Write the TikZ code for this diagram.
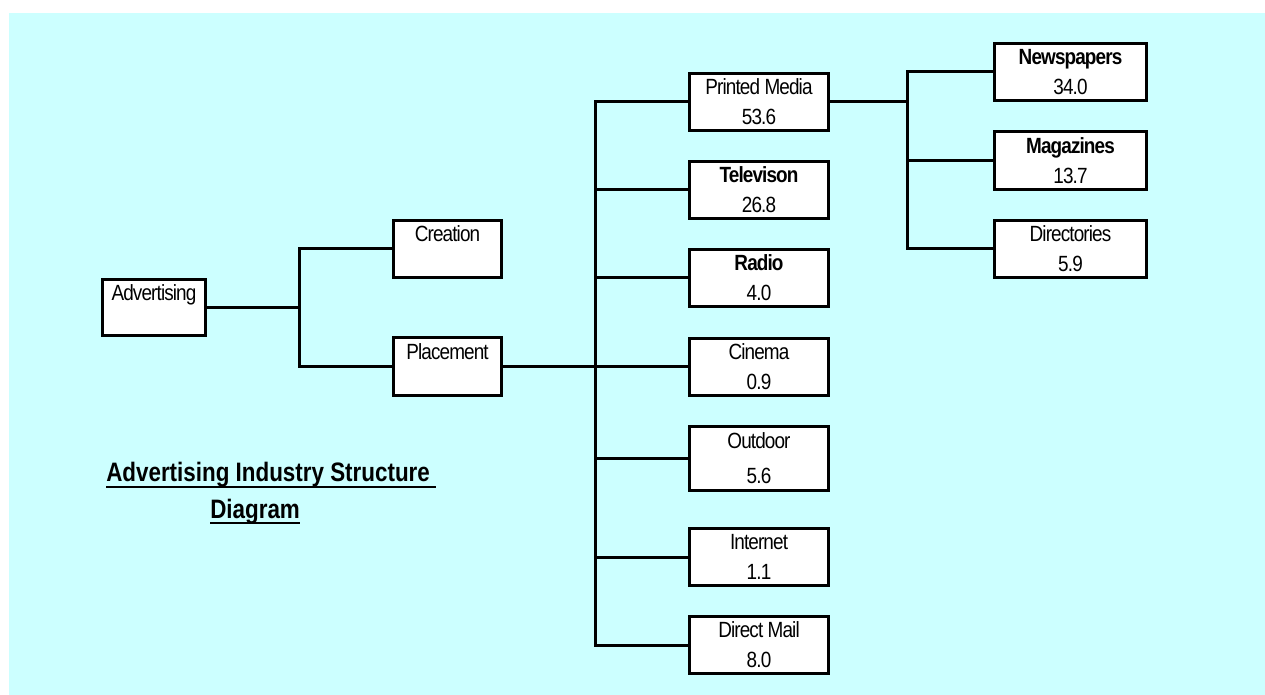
\documentclass[tikz,border=0pt]{standalone}
\usepackage{fontspec}
\setmainfont{Liberation Sans}[FakeStretch=0.86, LetterSpace=-4]
\newfontfamily\ttlfont{Liberation Sans}[FakeStretch=0.84]
\definecolor{bgcyan}{RGB}{204,255,255}
\newcommand\ulbox[1]{\setbox0\hbox{#1}\rlap{\rule[-4.5pt]{\wd0}{1.5pt}}\box0}
\tikzset{
  bx/.style={draw=black, fill=white, line width=2.25pt, inner sep=0pt, align=center,
    font=\fontsize{16.5}{22.5}\selectfont, minimum height=42.75pt},
  lw/.style={bx, minimum width=81pt},
  mw/.style={bx, minimum width=104.25pt},
  rw/.style={bx, minimum width=114pt},
  conn/.style={draw=black, line width=2.25pt},
  ttl/.style={anchor=base west, inner sep=0pt, font=\ttlfont\fontsize{20}{23}\selectfont\bfseries}
}
\begin{document}
\begin{tikzpicture}[x=0.75pt, y=-0.75pt]
\useasboundingbox (0,0) rectangle (1265,695);
\fill[bgcyan] (9,13) rectangle (1265,695);
% level 0/1
\node[bx, minimum width=77.25pt, minimum height=42pt] (adv) at (154,307.5) {Advertising\\\phantom{0}};
\node[lw] (cre) at (447.5,249) {Creation\\\phantom{0}};
\node[lw, minimum height=43.5pt] (pla) at (447.5,366.5) {Placement\\\phantom{0}};
% media column
\node[mw] (pm) at (759,102) {Printed Media\\53.6};
\node[mw] (tv) at (759,190) {\bfseries Televison\\26.8};
\node[mw] (ra) at (759,278) {\bfseries Radio\\4.0};
\node[mw] (ci) at (759,367) {Cinema\\0.9};
\node[mw, minimum height=48pt] (od) at (759,458.5) {Outdoor\\[3.75pt]5.6};
\node[mw] (in) at (759,557) {Internet\\1.1};
\node[mw] (dm) at (759,645) {Direct Mail\\8.0};
% printed media column
\node[rw] (np) at (1070.5,72) {\bfseries Newspapers\\34.0};
\node[rw, minimum height=43.5pt] (mg) at (1070.5,160.5) {\bfseries Magazines\\13.7};
\node[rw] (di) at (1070.5,249) {Directories\\5.9};
% junctions
\coordinate (j1) at (299,307.5);
\coordinate (j2) at (595,366.5);
\coordinate (j3) at (907,102);
% connectors
\draw[conn] (adv.east) -- (j1);
\draw[conn] (cre.west) -| (j1);
\draw[conn] (pla.west) -| (j1);
\draw[conn] (pla.east) -- (j2);
\foreach \n in {pm,tv,ra,ci,od,in,dm} \draw[conn] (\n.west) -| (j2);
\draw[conn] (pm.east) -- (j3);
\foreach \n in {np,mg,di} \draw[conn] (\n.west) -| (j3);
% title
\node[ttl] (t1) at (106,482) {\ulbox{Advertising Industry Structure\ }};
\node[ttl] (t2) at (210,518) {\ulbox{Diagram}};
\end{tikzpicture}
\end{document}
